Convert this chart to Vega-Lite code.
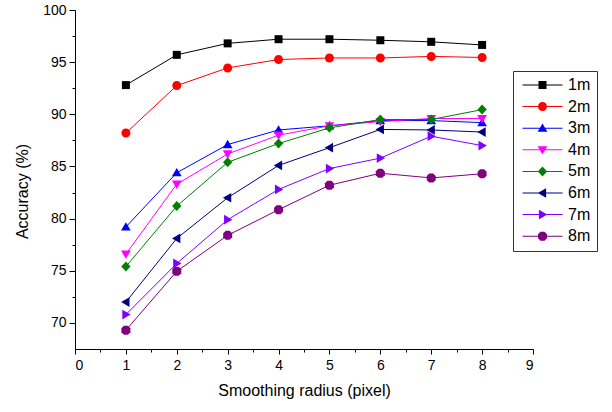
{
  "$schema": "https://vega.github.io/schema/vega-lite/v6.json",
  "width": 458,
  "height": 339,
  "autosize": {"type": "none"},
  "padding": {"left": 75, "top": 10, "right": 79, "bottom": 63},
  "background": "white",
  "config": {
    "font": "Liberation Sans",
    "view": {"stroke": null},
    "axis": {"grid": false, "domainColor": "black", "tickColor": "black", "labelColor": "black", "titleColor": "black", "titleFontWeight": "normal", "domainWidth": 1, "tickWidth": 1}
  },
  "data": {"values": [
    {"r":1,"acc":92.8,"s":"1m"},{"r":2,"acc":95.7,"s":"1m"},{"r":3,"acc":96.8,"s":"1m"},{"r":4,"acc":97.2,"s":"1m"},{"r":5,"acc":97.2,"s":"1m"},{"r":6,"acc":97.1,"s":"1m"},{"r":7,"acc":96.95,"s":"1m"},{"r":8,"acc":96.65,"s":"1m"},
    {"r":1,"acc":88.2,"s":"2m"},{"r":2,"acc":92.75,"s":"2m"},{"r":3,"acc":94.45,"s":"2m"},{"r":4,"acc":95.25,"s":"2m"},{"r":5,"acc":95.4,"s":"2m"},{"r":6,"acc":95.4,"s":"2m"},{"r":7,"acc":95.55,"s":"2m"},{"r":8,"acc":95.45,"s":"2m"},
    {"r":1,"acc":79.2,"s":"3m"},{"r":2,"acc":84.4,"s":"3m"},{"r":3,"acc":87.1,"s":"3m"},{"r":4,"acc":88.5,"s":"3m"},{"r":5,"acc":88.9,"s":"3m"},{"r":6,"acc":89.4,"s":"3m"},{"r":7,"acc":89.4,"s":"3m"},{"r":8,"acc":89.2,"s":"3m"},
    {"r":1,"acc":76.6,"s":"4m"},{"r":2,"acc":83.3,"s":"4m"},{"r":3,"acc":86.2,"s":"4m"},{"r":4,"acc":88.0,"s":"4m"},{"r":5,"acc":88.9,"s":"4m"},{"r":6,"acc":89.3,"s":"4m"},{"r":7,"acc":89.6,"s":"4m"},{"r":8,"acc":89.6,"s":"4m"},
    {"r":1,"acc":75.4,"s":"5m"},{"r":2,"acc":81.2,"s":"5m"},{"r":3,"acc":85.4,"s":"5m"},{"r":4,"acc":87.2,"s":"5m"},{"r":5,"acc":88.7,"s":"5m"},{"r":6,"acc":89.5,"s":"5m"},{"r":7,"acc":89.5,"s":"5m"},{"r":8,"acc":90.45,"s":"5m"},
    {"r":1,"acc":72.0,"s":"6m"},{"r":2,"acc":78.1,"s":"6m"},{"r":3,"acc":82.0,"s":"6m"},{"r":4,"acc":85.1,"s":"6m"},{"r":5,"acc":86.8,"s":"6m"},{"r":6,"acc":88.55,"s":"6m"},{"r":7,"acc":88.5,"s":"6m"},{"r":8,"acc":88.3,"s":"6m"},
    {"r":1,"acc":70.8,"s":"7m"},{"r":2,"acc":75.7,"s":"7m"},{"r":3,"acc":79.9,"s":"7m"},{"r":4,"acc":82.8,"s":"7m"},{"r":5,"acc":84.8,"s":"7m"},{"r":6,"acc":85.8,"s":"7m"},{"r":7,"acc":87.9,"s":"7m"},{"r":8,"acc":87.0,"s":"7m"},
    {"r":1,"acc":69.3,"s":"8m"},{"r":2,"acc":74.95,"s":"8m"},{"r":3,"acc":78.4,"s":"8m"},{"r":4,"acc":80.85,"s":"8m"},{"r":5,"acc":83.2,"s":"8m"},{"r":6,"acc":84.35,"s":"8m"},{"r":7,"acc":83.9,"s":"8m"},{"r":8,"acc":84.3,"s":"8m"}
  ]},
  "layer": [
    {
      "mark": {"type": "line", "strokeWidth": 1},
      "encoding": {
        "x": {"field": "r", "type": "quantitative", "scale": {"domain": [0, 9], "nice": false, "zero": false},
              "axis": {"orient": "bottom", "values": [0,1,2,3,4,5,6,7,8,9], "tickSize": 5, "labelFontSize": 14, "labelPadding": 4, "title": "Smoothing radius (pixel)", "titleFontSize": 16, "titlePadding": 10}},
        "y": {"field": "acc", "type": "quantitative", "scale": {"domain": [67.5, 100], "nice": false, "zero": false},
              "axis": {"orient": "left", "values": [70,75,80,85,90,95,100], "tickSize": 6, "labelFontSize": 14, "labelPadding": 3, "title": "Accuracy (%)", "titleFontSize": 16, "titlePadding": 12, "titleY": 181}},
        "color": {"field": "s", "type": "nominal",
                  "scale": {"domain": ["1m","2m","3m","4m","5m","6m","7m","8m"], "range": ["#000000","#FF0000","#0000FF","#FF00FF","#008000","#000080","#8000FF","#800080"]},
                  "legend": {"orient": "none", "legendX": 438, "legendY": 61, "title": null, "padding": 6,
                             "strokeColor": "#333333", "labelFontSize": 16, "labelColor": "black", "symbolSize": 100,
                             "symbolOffset": 15.5, "labelOffset": 17.5, "rowPadding": 5.6, "symbolStrokeWidth": 0, "symbolOpacity": 1,
                             "symbolType": {"expr": "['M-4,-0.1H4V0.1H-4ZM-0.8,-0.8H0.8V0.8H-0.8Z','M-4,-0.1H4V0.1H-4ZM0.9,0A0.9,0.9,0,1,1,-0.9,0A0.9,0.9,0,1,1,0.9,0Z','M-4,-0.1H4V0.1H-4ZM0,-0.95L0.97,0.72H-0.97Z','M-4,-0.1H4V0.1H-4ZM0,0.95L-0.97,-0.72H0.97Z','M-4,-0.1H4V0.1H-4ZM0,-1L0.93,0L0,1L-0.93,0Z','M-4,-0.1H4V0.1H-4ZM-0.95,0L0.72,-0.97V0.97Z','M-4,-0.1H4V0.1H-4ZM0.95,0L-0.72,0.97V-0.97Z','M-4,-0.1H4V0.1H-4ZM-0.4,-0.9H0.4L0.9,-0.4V0.4L0.4,0.9H-0.4L-0.9,0.4V-0.4Z'][indexof(['1m','2m','3m','4m','5m','6m','7m','8m'], datum.value)]"}}}
      }
    },
    {"transform": [{"filter": {"field": "s", "equal": "1m"}}],
     "mark": {"type": "point", "filled": true, "opacity": 1, "size": 100, "shape": "M-0.8,-0.8H0.8V0.8H-0.8Z"},
     "encoding": {"x": {"field": "r", "type": "quantitative", "axis": null}, "y": {"field": "acc", "type": "quantitative", "axis": null}, "color": {"field": "s", "type": "nominal"}}},
    {"transform": [{"filter": {"field": "s", "equal": "2m"}}],
     "mark": {"type": "point", "filled": true, "opacity": 1, "size": 100, "shape": "M0.9,0A0.9,0.9,0,1,1,-0.9,0A0.9,0.9,0,1,1,0.9,0Z"},
     "encoding": {"x": {"field": "r", "type": "quantitative", "axis": null}, "y": {"field": "acc", "type": "quantitative", "axis": null}, "color": {"field": "s", "type": "nominal"}}},
    {"transform": [{"filter": {"field": "s", "equal": "3m"}}],
     "mark": {"type": "point", "filled": true, "opacity": 1, "size": 100, "shape": "M0,-0.95L0.97,0.72H-0.97Z"},
     "encoding": {"x": {"field": "r", "type": "quantitative", "axis": null}, "y": {"field": "acc", "type": "quantitative", "axis": null}, "color": {"field": "s", "type": "nominal"}}},
    {"transform": [{"filter": {"field": "s", "equal": "4m"}}],
     "mark": {"type": "point", "filled": true, "opacity": 1, "size": 100, "shape": "M0,0.95L-0.97,-0.72H0.97Z"},
     "encoding": {"x": {"field": "r", "type": "quantitative", "axis": null}, "y": {"field": "acc", "type": "quantitative", "axis": null}, "color": {"field": "s", "type": "nominal"}}},
    {"transform": [{"filter": {"field": "s", "equal": "5m"}}],
     "mark": {"type": "point", "filled": true, "opacity": 1, "size": 100, "shape": "M0,-1L0.93,0L0,1L-0.93,0Z"},
     "encoding": {"x": {"field": "r", "type": "quantitative", "axis": null}, "y": {"field": "acc", "type": "quantitative", "axis": null}, "color": {"field": "s", "type": "nominal"}}},
    {"transform": [{"filter": {"field": "s", "equal": "6m"}}],
     "mark": {"type": "point", "filled": true, "opacity": 1, "size": 100, "shape": "M-0.95,0L0.72,-0.97V0.97Z"},
     "encoding": {"x": {"field": "r", "type": "quantitative", "axis": null}, "y": {"field": "acc", "type": "quantitative", "axis": null}, "color": {"field": "s", "type": "nominal"}}},
    {"transform": [{"filter": {"field": "s", "equal": "7m"}}],
     "mark": {"type": "point", "filled": true, "opacity": 1, "size": 100, "shape": "M0.95,0L-0.72,0.97V-0.97Z"},
     "encoding": {"x": {"field": "r", "type": "quantitative", "axis": null}, "y": {"field": "acc", "type": "quantitative", "axis": null}, "color": {"field": "s", "type": "nominal"}}},
    {"transform": [{"filter": {"field": "s", "equal": "8m"}}],
     "mark": {"type": "point", "filled": true, "opacity": 1, "size": 100, "shape": "M-0.4,-0.9H0.4L0.9,-0.4V0.4L0.4,0.9H-0.4L-0.9,0.4V-0.4Z"},
     "encoding": {"x": {"field": "r", "type": "quantitative", "axis": null}, "y": {"field": "acc", "type": "quantitative", "axis": null}, "color": {"field": "s", "type": "nominal"}}},
    {
      "mark": {"type": "point", "opacity": 0},
      "encoding": {
        "x": {"field": "r", "type": "quantitative",
              "axis": {"orient": "bottom", "values": [0.5,1.5,2.5,3.5,4.5,5.5,6.5,7.5,8.5], "tickSize": 3, "labels": false, "domain": false, "title": null}},
        "y": {"field": "acc", "type": "quantitative",
              "axis": {"orient": "left", "values": [72.5,77.5,82.5,87.5,92.5,97.5], "tickSize": 3, "labels": false, "domain": false, "title": null}}
      }
    }
  ],
  "resolve": {"axis": {"x": "independent", "y": "independent"}}
}
